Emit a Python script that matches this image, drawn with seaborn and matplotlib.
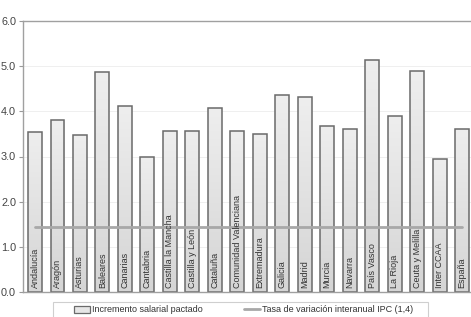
import numpy as np
import pandas as pd
import matplotlib
matplotlib.use("Agg")
import matplotlib.pyplot as plt
import seaborn as sns
from matplotlib.patches import Patch, Rectangle
from matplotlib.lines import Line2D

regiones = ["Andalucía", "Aragón", "Asturias", "Baleares", "Canarias", "Cantabria",
            "Castilla la Mancha", "Castilla y León", "Cataluña", "Comunidad Valenciana",
            "Extremadura", "Galicia", "Madrid", "Murcia", "Navarra", "País Vasco",
            "La Rioja", "Ceuta y Melilla", "Inter CCAA", "España"]
incremento = [3.54, 3.80, 3.48, 4.88, 4.12, 2.99, 3.57, 3.56, 4.07, 3.57,
              3.50, 4.37, 4.31, 3.67, 3.61, 5.13, 3.89, 4.89, 2.95, 3.60]
ipc = [1.43] * len(regiones)
yticks = [0.0, 1.0, 2.0, 3.0, 4.0, 5.0, 6.0]
leg_labels = ["Incremento salarial pactado", "Tasa de variación interanual IPC (1,4)"]

df = pd.DataFrame({"region": regiones, "incremento": incremento, "ipc": ipc})

sns.set_theme(style="white")
plt.rcParams["font.family"] = ["Liberation Sans", "DejaVu Sans"]

W, H = 471, 317
fig = plt.figure(figsize=(W / 100, H / 100), dpi=100)
ax = fig.add_axes([23 / W, (H - 292) / H, (471 - 23) / W, (292 - 21) / H])

edge = "#6a6a6a"
sns.barplot(data=df, x="region", y="incremento", color="#e0e0e0", width=0.62,
            edgecolor=edge, linewidth=1.1, saturation=1, ax=ax, zorder=2)

# vertical gradient inside each bar
grad = np.linspace(0, 1, 64).reshape(-1, 1)
cmap = matplotlib.colors.LinearSegmentedColormap.from_list("g", ["#d5d5d5", "#eeeeee"])
for p in ax.patches:
    x0, y0 = p.get_x(), p.get_y()
    w, h = p.get_width(), p.get_height()
    im = ax.imshow(grad, extent=[x0, x0 + w, y0 + h, y0], cmap=cmap, aspect="auto",
                   origin="upper", zorder=2.1)
    im.set_clip_path(p)
    p.set_facecolor("none")
    p.set_zorder(2.2)

sns.lineplot(data=df, x="region", y="ipc", color="#a8a8a8", linewidth=2.0,
             ax=ax, zorder=3, sort=False)

for i, name in enumerate(regiones):
    ax.text(i, 0.08, name, rotation=90, ha="center", va="bottom", fontsize=6.5,
            color="#333333", zorder=4)

ax.set_xlim(-0.534, 19.4)
ax.set_ylim(0, 6.0)
ax.set_yticks(yticks)
ax.set_yticklabels([f"{v:.1f}" for v in yticks], fontsize=7.8, color="#444444")
ax.set_xticks([])
ax.set_xlabel("")
ax.set_ylabel("")
ax.yaxis.grid(True, color="#efefef", linewidth=0.7, zorder=0)
ax.set_axisbelow(True)
ax.tick_params(axis="y", length=3, width=0.8, color="#9a9a9a", pad=2, left=True)
for s in ["top", "left", "bottom"]:
    ax.spines[s].set_visible(True)
    ax.spines[s].set_color("#a0a0a0")
    ax.spines[s].set_linewidth(1.0)
ax.spines["right"].set_visible(False)

# legend frame
fig.patches.append(Rectangle((53 / W, -0.05), (428 - 53) / W, (H - 302) / H + 0.05,
                             transform=fig.transFigure, facecolor="white",
                             edgecolor="#cfcfcf", linewidth=0.8, zorder=0))

handles = [Patch(facecolor="#e6e6e6", edgecolor=edge, linewidth=0.9),
           Line2D([0], [0], color="#a8a8a8", linewidth=2.0)]
leg = fig.legend(handles, leg_labels, loc="center left", ncol=2,
                 bbox_to_anchor=(74 / W, (H - 310) / H),
                 fontsize=6.5, frameon=False, handlelength=1.75,
                 handletextpad=0.25, borderaxespad=0, borderpad=0,
                 columnspacing=4.6, labelcolor="#333333")

fig.savefig("out.png", dpi=100)
